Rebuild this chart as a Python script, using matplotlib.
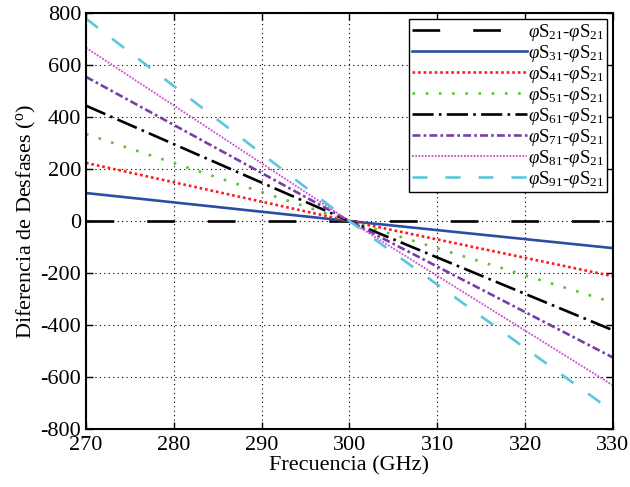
import matplotlib
matplotlib.use('Agg')
import matplotlib.pyplot as plt

plt.rcParams['font.family'] = ['Liberation Serif', 'DejaVu Serif']
plt.rcParams['mathtext.fontset'] = 'custom'
plt.rcParams['mathtext.rm'] = 'Liberation Serif'
plt.rcParams['mathtext.it'] = 'Liberation Serif:italic'
plt.rcParams['axes.unicode_minus'] = False

# frequency points (GHz) and phase differences (degrees) for each port
freq = [270, 300, 330]
s21 = [0, 0, 0]
s31 = [108, 0, -104]
s41 = [224, 0, -212]
s51 = [335, 0, -313]
s61 = [444, 0, -420]
s71 = [555, 0, -525]
s81 = [667, 0, -632]
s91 = [779, 0, -733]

labels = [r'$\varphi$S$_{%d1}$-$\varphi$S$_{21}$' % n for n in range(2, 10)]

fig = plt.figure(figsize=(6.3, 4.87), dpi=100)
ax = fig.add_axes([0.1365, 0.119, 0.8365, 0.854])

lw = 1.9
ax.plot(freq, s21, color='black', lw=lw, dashes=(10.5, 12.5), label=labels[0])
ax.plot(freq, s31, color='#2b4ea2', lw=lw, label=labels[1])
ax.plot(freq, s41, color='#ff1a1a', lw=lw, dashes=(1, 1.1), label=labels[2])
ax.plot(freq, s51, color='#5cc03a', lw=lw, dashes=(1, 4), label=labels[3])
ax.plot(freq, s61, color='black', lw=lw, dashes=(8, 2, 1, 2), label=labels[4])
ax.plot(freq, s71, color='#7a3da6', lw=lw, dashes=(3, 1.2, 1, 1.2), label=labels[5])
ax.plot(freq, s81, color='#cc4ccc', lw=1.3, dashes=(1, 0.8), label=labels[6])
ax.plot(freq, s91, color='#5bc6dc', lw=lw, dashes=(5.7, 6.8), label=labels[7])

ax.set_xlim(270, 330)
ax.set_ylim(-800, 800)
ax.set_xticks(range(270, 331, 10))
ax.set_yticks(range(-800, 801, 200))
ax.grid(True, color='black', linestyle=(0, (1, 3)), lw=0.8)
ax.tick_params(direction='in', top=True, right=True, labelsize=16, length=5, width=1)
ax.tick_params(axis='x', pad=5)
for sp in ax.spines.values():
    sp.set_linewidth(1.5)

ax.set_xlabel('Frecuencia (GHz)', fontsize=16, labelpad=1)
ax.set_ylabel('Diferencia de Desfases ($^{\\rm o}$)', fontsize=16, labelpad=2)

leg = ax.legend(loc='upper right', fontsize=13.5, handlelength=6.1, handletextpad=0.1,
                labelspacing=0.0, borderpad=0.15, borderaxespad=0.3,
                fancybox=False, framealpha=1)
leg.get_frame().set_edgecolor('black')
leg.get_frame().set_linewidth(1.0)

fig.savefig('out.png', dpi=100)
